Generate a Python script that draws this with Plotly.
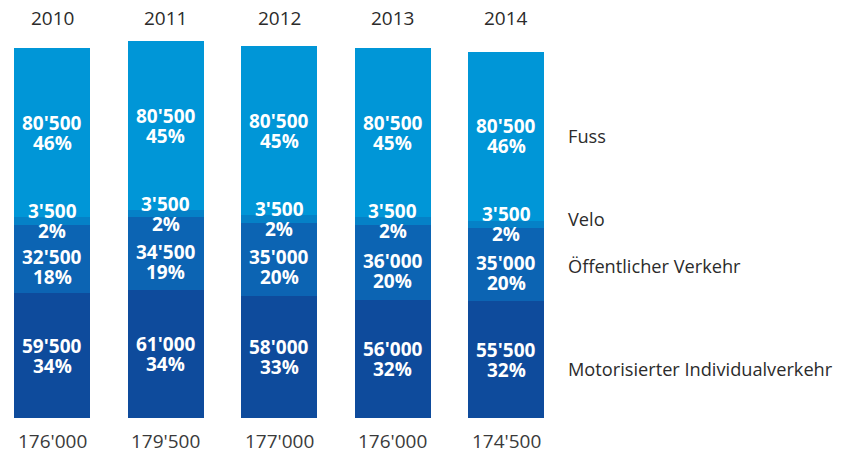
import plotly.graph_objects as go

years = ["2010", "2011", "2012", "2013", "2014"]
modes = ["Motorisierter Individualverkehr", "Öffentlicher Verkehr", "Velo", "Fuss"]

miv = [59500, 61000, 58000, 56000, 55500]
oev = [32500, 34500, 35000, 36000, 35000]
velo = [3500, 3500, 3500, 3500, 3500]
fuss = [80500, 80500, 80500, 80500, 80500]

miv_pct = [34, 34, 33, 32, 32]
oev_pct = [18, 19, 20, 20, 20]
velo_pct = [2, 2, 2, 2, 2]
fuss_pct = [46, 45, 45, 45, 46]

values = [miv, oev, velo, fuss]
pcts = [miv_pct, oev_pct, velo_pct, fuss_pct]
colors = ["#0e4b9c", "#0c64b3", "#0581c7", "#0096d7"]
# vertical nudge of the in-bar text and of the right-hand labels (px)
text_shift = [0, -8, 0, 0]
label_shift = [-9, -1, 5, 0]

FONT = "Open Sans"


def fmt(v):
    return f"{v:,}".replace(",", "'")


fig = go.Figure()
for name, vals, col in zip(modes, values, colors):
    fig.add_trace(go.Bar(
        x=years, y=vals, name=name, marker=dict(color=col, line=dict(width=0)),
        width=0.67, hoverinfo="x+y+name"
    ))

annotations = []
base = [0] * len(years)
for k, (vals, pc) in enumerate(zip(values, pcts)):
    for i, yr in enumerate(years):
        mid = base[i] + vals[i] / 2
        for txt, dy in ((fmt(vals[i]), 10), (f"{pc[i]}%", -10)):
            annotations.append(dict(
                x=i, y=mid, xref="x", yref="y", text=txt, showarrow=False,
                yshift=dy + text_shift[k],
                font=dict(family=FONT, size=19, color="white", weight="bold")
            ))
    # label on the right, next to the last bar
    annotations.append(dict(
        x=1, xref="paper", y=base[-1] + vals[-1] / 2, yref="y", text=modes[k],
        showarrow=False, xanchor="left", xshift=4, yshift=label_shift[k],
        font=dict(family=FONT, size=18.2, color="#2b2b2b")
    ))
    base = [b + v for b, v in zip(base, vals)]

totals = base
for i, yr in enumerate(years):
    annotations.append(dict(
        x=i, y=1, xref="x", yref="paper", text=yr, showarrow=False,
        yanchor="bottom", yshift=7, font=dict(family=FONT, size=19, color="#2b2b2b")
    ))
    annotations.append(dict(
        x=i, y=0, xref="x", yref="paper", text=fmt(totals[i]), showarrow=False,
        yanchor="top", yshift=-8, font=dict(family=FONT, size=19, color="#3a3a3a")
    ))

fig.update_layout(
    barmode="stack",
    width=835, height=442,
    margin=dict(l=0, r=281, t=32, b=32),
    plot_bgcolor="white", paper_bgcolor="white",
    showlegend=False,
    annotations=annotations,
    xaxis=dict(type="category", range=[-0.388, 4.493], showticklabels=False,
               showgrid=False, zeroline=False, showline=False),
    yaxis=dict(range=[0, 180000], showticklabels=False, showgrid=False,
               zeroline=False, showline=False),
)

fig.write_html("out.html")
